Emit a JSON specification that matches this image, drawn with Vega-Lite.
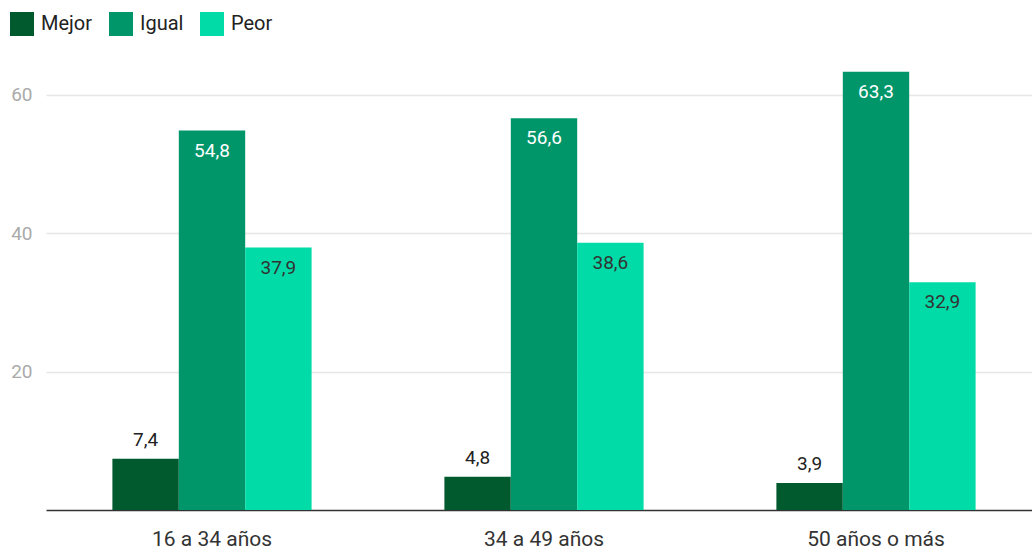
{
  "$schema": "https://vega.github.io/schema/vega-lite/v6.json",
  "autosize": "none",
  "width": 996,
  "height": 450,
  "padding": {"left": 46, "top": 60, "right": 0, "bottom": 40},
  "config": {
    "font": "Roboto",
    "view": {"stroke": null},
    "locale": {"number": {"decimal": ",", "thousands": ".", "grouping": [3], "currency": ["", " €"]}}
  },
  "data": {
    "values": [
      {"grupo": "16 a 34 años", "cat": "Mejor", "valor": 7.4},
      {"grupo": "16 a 34 años", "cat": "Igual", "valor": 54.8},
      {"grupo": "16 a 34 años", "cat": "Peor", "valor": 37.9},
      {"grupo": "34 a 49 años", "cat": "Mejor", "valor": 4.8},
      {"grupo": "34 a 49 años", "cat": "Igual", "valor": 56.6},
      {"grupo": "34 a 49 años", "cat": "Peor", "valor": 38.6},
      {"grupo": "50 años o más", "cat": "Mejor", "valor": 3.9},
      {"grupo": "50 años o más", "cat": "Igual", "valor": 63.3},
      {"grupo": "50 años o más", "cat": "Peor", "valor": 32.9}
    ]
  },
  "encoding": {
    "x": {
      "field": "grupo", "type": "nominal", "sort": null, "title": null,
      "scale": {"paddingInner": 0.4, "paddingOuter": 0.2},
      "axis": {"labelAngle": 0, "labelFontSize": 21, "labelColor": "#333", "labelPadding": 18, "ticks": false, "domainColor": "#333", "domainWidth": 1.5, "grid": false}
    },
    "xOffset": {"field": "cat", "type": "nominal", "sort": ["Mejor", "Igual", "Peor"], "scale": {"paddingInner": 0, "paddingOuter": 0}},
    "y": {
      "field": "valor", "type": "quantitative", "title": null,
      "scale": {"domain": [0, 65], "nice": false},
      "axis": {"values": [20, 40, 60], "labelFontSize": 19, "labelColor": "#aaa", "labelPadding": 14, "ticks": false, "domain": false, "gridColor": "#e6e6e6", "gridWidth": 1.5}
    }
  },
  "layer": [
    {
      "mark": {"type": "bar"},
      "encoding": {
        "color": {
          "field": "cat", "type": "nominal", "sort": ["Mejor", "Igual", "Peor"],
          "scale": {"domain": ["Mejor", "Igual", "Peor"], "range": ["#01592e", "#00966a", "#00dba7"]},
          "legend": {
            "title": null, "orient": "none", "direction": "horizontal", "legendX": -36, "legendY": -48,
            "symbolType": "square", "symbolSize": 576, "symbolStrokeWidth": 0, "symbolOpacity": 1,
            "labelFontSize": 20, "labelColor": "#222", "labelOffset": 7, "columnPadding": 16
          }
        }
      }
    },
    {
      "transform": [{"filter": "datum.cat === 'Mejor'"}],
      "mark": {"type": "text", "baseline": "bottom", "dy": -9, "fontSize": 19, "color": "#222"},
      "encoding": {"text": {"field": "valor", "type": "quantitative", "format": ".1f"}}
    },
    {
      "transform": [{"filter": "datum.cat !== 'Mejor'"}],
      "mark": {"type": "text", "baseline": "top", "dy": 11, "fontSize": 19},
      "encoding": {
        "text": {"field": "valor", "type": "quantitative", "format": ".1f"},
        "color": {"condition": {"test": "datum.cat === 'Igual'", "value": "#ffffff"}, "value": "#333333"}
      }
    }
  ]
}
